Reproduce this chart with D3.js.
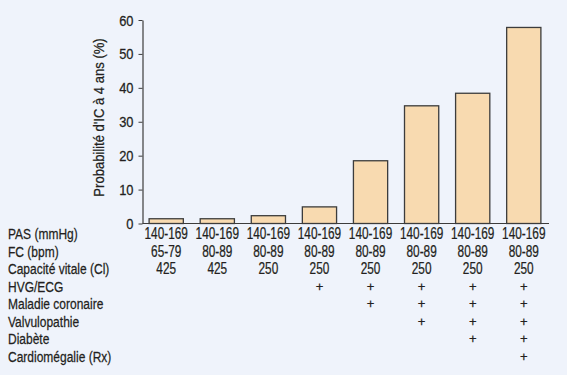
<!DOCTYPE html>
<html>
<head>
<meta charset="utf-8">
<script src="https://cdn.jsdelivr.net/npm/d3@7"></script>
<style>
  body { margin: 0; background: #eff3fb; }
  svg text { font-family: "Liberation Sans", Arial, sans-serif; fill: #231f20; stroke: #231f20; stroke-width: 0.25px; }
</style>
</head>
<body>
<div id="vis"></div>
<script>
// bar values (probabilite d'IC a 4 ans, %)
var values = [1.4, 1.4, 2.3, 4.9, 18.5, 34.7, 38.4, 57.8];
var pas = ["140-169","140-169","140-169","140-169","140-169","140-169","140-169","140-169"];
var fc = ["65-79","80-89","80-89","80-89","80-89","80-89","80-89","80-89"];
var ci = ["425","425","250","250","250","250","250","250"];
// risk factor rows, 1 = "+"
var hvg =        [0,0,0,1,1,1,1,1];
var coronaire =  [0,0,0,0,1,1,1,1];
var valvulo =    [0,0,0,0,0,1,1,1];
var diabete =    [0,0,0,0,0,0,1,1];
var cardiomeg =  [0,0,0,0,0,0,0,1];
var rowLabels = ["PAS (mmHg)","FC (bpm)","Capacité vitale (Cl)","HVG/ECG","Maladie coronaire","Valvulopathie","Diabète","Cardiomégalie (Rx)"];
var yTicks = [0,10,20,30,40,50,60];

var svg = d3.select("#vis").append("svg").attr("width",567).attr("height",375);

var idx = d3.range(values.length);
var x = d3.scaleBand().domain(idx).range([144,546]).paddingInner(0.33).paddingOuter(0.1);
var y = d3.scaleLinear().domain([0,60]).range([223.5,20]);

// bars
svg.selectAll("rect.bar").data(values).enter().append("rect")
    .attr("class","bar")
    .attr("x",(d,i) => x(i))
    .attr("y",(d) => y(d))
    .attr("width",x.bandwidth())
    .attr("height",(d) => y(0)-y(d))
    .attr("fill","#f8dab0")
    .attr("stroke","#3c3c3c")
    .attr("stroke-width",1.3);

// y axis
var yAxis = svg.append("g").attr("transform","translate(142.5,0)")
    .call(d3.axisLeft(y).tickValues(yTicks).tickSize(4).tickSizeOuter(0));
yAxis.select(".domain").attr("stroke","#3c3c3c").attr("stroke-width",1.2);
yAxis.selectAll(".tick line").attr("stroke","#3c3c3c");
yAxis.selectAll(".tick text").attr("font-size",14).attr("font-family",null).attr("fill",null)
    .attr("x",0).attr("dy","0.36em").attr("transform","translate(-9,0) scale(0.92,1)");

// baseline
svg.append("line").attr("x1",142.5).attr("x2",549).attr("y1",y(0)).attr("y2",y(0))
    .attr("stroke","#3c3c3c").attr("stroke-width",1.2);

// y title
svg.append("text").text("Probabilité d'IC à 4 ans (%)")
    .attr("transform","translate(104,117.5) rotate(-90) scale(0.87,1)")
    .attr("text-anchor","middle").attr("font-size",15);

// rows below
var rowY = d3.scaleLinear().domain([0,7]).range([239,362]);
svg.selectAll("text.rowlab").data(rowLabels).enter().append("text")
    .attr("class","rowlab").text((d) => d)
    .attr("transform",(d,i) => "translate(8," + rowY(i) + ") scale(0.8,1)")
    .attr("font-size",15);

var textRows = [pas, fc, ci];
textRows.forEach(function(row, r){
    svg.selectAll("text.r"+r).data(row).enter().append("text")
        .attr("class","r"+r).text((d) => d)
        .attr("transform",(d,i) => "translate(" + (x(i)+x.bandwidth()/2) + "," + rowY(r) + ") scale(0.74,1)")
        .attr("text-anchor","middle").attr("font-size",16);
});
var plusRows = [hvg, coronaire, valvulo, diabete, cardiomeg];
plusRows.forEach(function(row, r){
    svg.selectAll("text.p"+r).data(row).enter().append("text")
        .attr("class","p"+r).text((d) => d ? "+" : "")
        .attr("x",(d,i) => x(i)+x.bandwidth()/2)
        .attr("y",rowY(r+3)-1).attr("text-anchor","middle").attr("font-size",13);
});
</script>
</body>
</html>
